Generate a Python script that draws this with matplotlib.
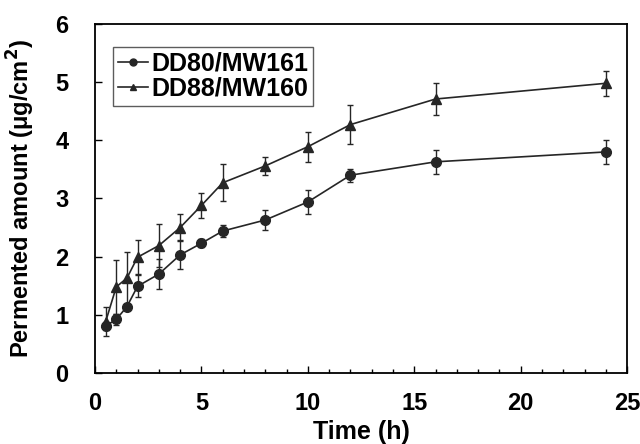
import matplotlib
matplotlib.use("Agg")
import matplotlib.pyplot as plt
from matplotlib.ticker import MultipleLocator
from matplotlib.lines import Line2D

time_h = [0.5, 1, 1.5, 2, 3, 4, 5, 6, 8, 10, 12, 16, 24]
dd80 = [0.81, 0.92, 1.14, 1.49, 1.70, 2.03, 2.23, 2.44, 2.63, 2.94, 3.40, 3.63, 3.80]
dd80_err = [0.07, 0.10, 0.05, 0.19, 0.26, 0.25, 0.07, 0.10, 0.18, 0.20, 0.11, 0.21, 0.21]
dd88 = [0.88, 1.48, 1.63, 1.99, 2.19, 2.50, 2.88, 3.27, 3.56, 3.89, 4.27, 4.71, 4.98]
dd88_err = [0.25, 0.46, 0.45, 0.29, 0.37, 0.23, 0.22, 0.32, 0.15, 0.26, 0.33, 0.28, 0.21]
labels = ["DD80/MW161", "DD88/MW160"]

plt.rcParams['font.family'] = ['Liberation Sans', 'DejaVu Sans']
plt.rcParams['font.weight'] = 'bold'

fig = plt.figure(figsize=(6.4, 4.44), dpi=100)
ax = fig.add_axes([0.1484, 0.16, 0.8316, 0.786])

col = '#262626'
ax.errorbar(time_h, dd80, yerr=dd80_err, color=col, lw=1.2, marker='o', ms=7,
            capsize=2.5, elinewidth=1.0, capthick=1.0)
ax.errorbar(time_h, dd88, yerr=dd88_err, color=col, lw=1.2, marker='^', ms=7,
            capsize=2.5, elinewidth=1.0, capthick=1.0)

ax.set_xlim(0, 25)
ax.set_ylim(0, 6)
ax.xaxis.set_major_locator(MultipleLocator(5))
ax.xaxis.set_minor_locator(MultipleLocator(1))
ax.yaxis.set_major_locator(MultipleLocator(1))
ax.tick_params(axis='x', which='major', direction='in', length=5, width=1,
               labelsize=17, pad=14)
ax.tick_params(axis='y', which='major', direction='in', length=5, width=1,
               labelsize=17, pad=19)
ax.tick_params(axis='both', which='minor', direction='in', length=3, width=1)
for lab in ax.get_xticklabels() + ax.get_yticklabels():
    lab.set_fontweight('bold')
for sp in ax.spines.values():
    sp.set_linewidth(1.3)

ax.set_xlabel('Time (h)', fontsize=18, fontweight='bold')
ax.set_ylabel('Permented amount (μg/cm$^\\mathbf{2}$)', fontsize=17, fontweight='bold')
ax.xaxis.set_label_coords(0.5, -0.135)
ax.yaxis.set_label_coords(-0.108, 0.5)

handles = [Line2D([], [], color=col, lw=1.2, marker='o', ms=5),
           Line2D([], [], color=col, lw=1.2, marker='^', ms=5)]
leg = ax.legend(handles, labels, loc='upper left', bbox_to_anchor=(0.033, 0.935),
                fontsize=18, frameon=True, fancybox=False, edgecolor='#333333',
                handlelength=1.2, handletextpad=0.15, borderpad=0.2,
                labelspacing=0.05, borderaxespad=0)
leg.get_frame().set_linewidth(1.0)
for t in leg.get_texts():
    t.set_fontweight('bold')

fig.savefig('out.png', dpi=100)
